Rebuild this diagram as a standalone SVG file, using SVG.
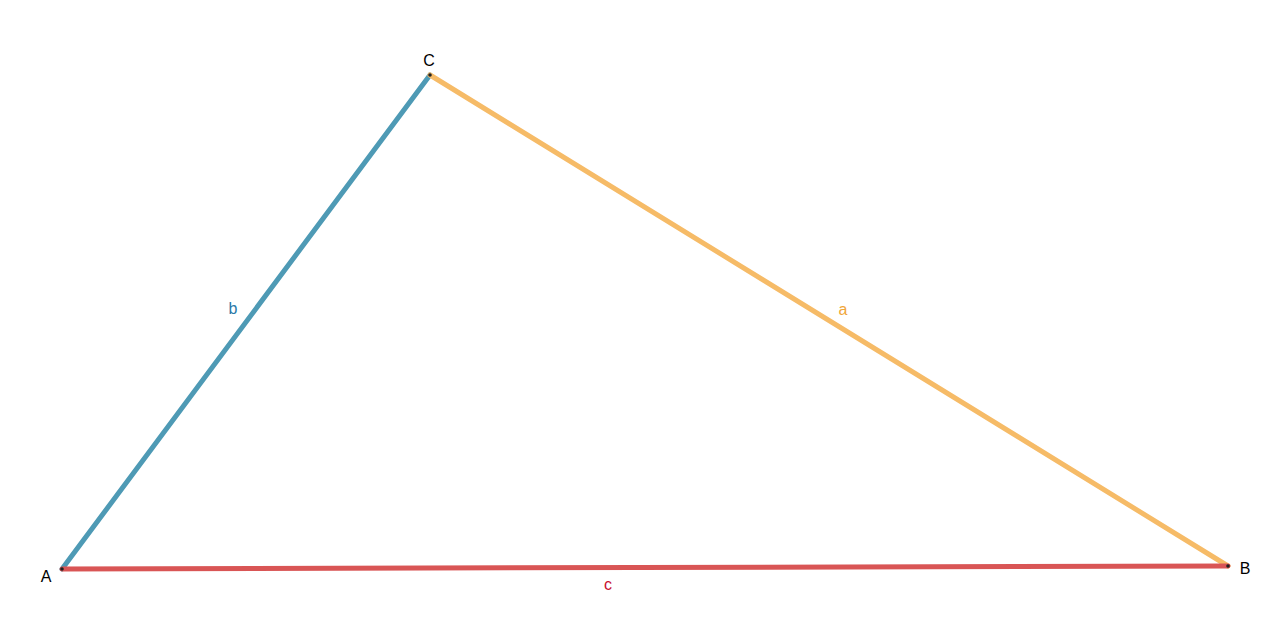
<svg xmlns="http://www.w3.org/2000/svg" width="1280" height="644" viewBox="0 0 1280 644">
<style>
.side{stroke-width:5;stroke-linecap:round;fill:none}
.vtx{fill:#222}
.lbl{font-family:"Liberation Sans",Arial,sans-serif;font-size:16px;text-anchor:middle}
</style>
<rect width="1280" height="644" fill="#ffffff"/>
<g id="connectors">
<line id="side-b" class="side" x1="62" y1="569" x2="430" y2="75" stroke="#4e9ab5"/>
<line id="side-a" class="side" x1="430" y1="75" x2="1228" y2="566" stroke="#f6bb67"/>
<line id="side-c" class="side" x1="62" y1="569" x2="1228" y2="566" stroke="#d95555"/>
<text class="lbl" x="233" y="314" fill="#2b78a8">b</text>
<text class="lbl" x="843" y="315" fill="#f0a63a">a</text>
<text class="lbl" x="608" y="590" fill="#c8102e">c</text>
</g>
<g id="A">
<circle class="vtx" cx="62" cy="569" r="1.8"/>
<text class="lbl" x="46" y="582" fill="#000">A</text>
</g>
<g id="B">
<circle class="vtx" cx="1228" cy="566" r="1.8"/>
<text class="lbl" x="1245" y="574" fill="#000">B</text>
</g>
<g id="C">
<circle class="vtx" cx="430" cy="75" r="1.8"/>
<text class="lbl" x="429" y="66" fill="#000">C</text>
</g>
</svg>
